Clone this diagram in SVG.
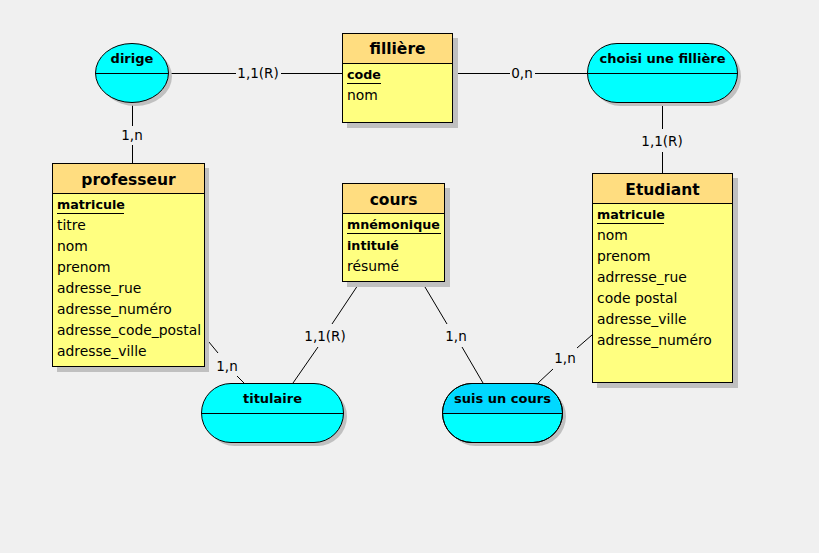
<svg xmlns="http://www.w3.org/2000/svg" width="819" height="553" viewBox="0 0 819 553">
  <style>
    .shadow { fill: #c0c0c0; }
    .head { fill: #ffdd80; stroke: #000; stroke-width: 1; }
    .body { fill: #ffff80; stroke: #000; stroke-width: 1; }
    .rel { fill: #00ffff; stroke: #000; stroke-width: 1; }
    .div { stroke: #000; stroke-width: 1; }
    .title { font-family: "DejaVu Sans", sans-serif; font-weight: bold; font-size: 15.5px; fill: #000; text-anchor: middle; }
    .rtitle { font-family: "DejaVu Sans", sans-serif; font-weight: bold; font-size: 13px; fill: #000; text-anchor: middle; }
    .attr { font-family: "DejaVu Sans", sans-serif; font-size: 13.9px; fill: #000; }
    .key { font-weight: bold; font-size: 12.7px; }
    .card { font-family: "DejaVu Sans", sans-serif; font-size: 13.5px; fill: #000; text-anchor: middle; }
    .link { stroke: #000; stroke-width: 1; fill: none; }
  </style>
  <rect width="819" height="553" fill="#f0f0f0"/>

  <g id="connectors">
    <!-- dirige - fillière -->
    <line class="link" x1="168" y1="73.5" x2="236" y2="73.5"/>
    <line class="link" x1="281" y1="73.5" x2="342" y2="73.5"/>
    <text class="card" x="258" y="78">1,1(R)</text>
    <!-- fillière - choisi une fillière -->
    <line class="link" x1="453" y1="73.5" x2="510" y2="73.5"/>
    <line class="link" x1="535" y1="73.5" x2="587" y2="73.5"/>
    <text class="card" x="522" y="78">0,n</text>
    <!-- dirige - professeur -->
    <line class="link" x1="132.5" y1="102" x2="132.5" y2="126"/>
    <line class="link" x1="132.5" y1="145" x2="132.5" y2="163"/>
    <text class="card" x="132" y="140">1,n</text>
    <!-- choisi une fillière - Etudiant -->
    <line class="link" x1="662.5" y1="102" x2="662.5" y2="129"/>
    <line class="link" x1="662.5" y1="152" x2="662.5" y2="173"/>
    <text class="card" x="662" y="146">1,1(R)</text>
    <!-- professeur - titulaire -->
    <line class="link" x1="204" y1="336" x2="218" y2="353"/>
    <line class="link" x1="237" y1="376" x2="244" y2="383"/>
    <text class="card" x="227" y="371">1,n</text>
    <!-- cours - titulaire -->
    <line class="link" x1="360" y1="282" x2="332" y2="324"/>
    <line class="link" x1="318" y1="347" x2="293" y2="383"/>
    <text class="card" x="325" y="341">1,1(R)</text>
    <!-- cours - suis un cours -->
    <line class="link" x1="422" y1="282" x2="447" y2="324"/>
    <line class="link" x1="462" y1="347" x2="483" y2="383"/>
    <text class="card" x="456" y="341">1,n</text>
    <!-- Etudiant - suis un cours -->
    <line class="link" x1="592" y1="335" x2="577" y2="348"/>
    <line class="link" x1="553" y1="369" x2="538" y2="383"/>
    <text class="card" x="565" y="363">1,n</text>
  </g>

  <g id="fillière">
    <rect class="shadow" x="347" y="38" width="111" height="90"/>
    <rect class="head" x="342.5" y="33.5" width="110" height="30"/>
    <rect class="body" x="342.5" y="63.5" width="110" height="59"/>
    <text class="title" x="397.5" y="54">fillière</text>
    <text class="attr key" x="347" y="79">code</text>
    <line class="div" x1="347" y1="83.5" x2="381" y2="83.5"/>
    <text class="attr" x="347" y="100">nom</text>
  </g>

  <g id="professeur">
    <rect class="shadow" x="57" y="168" width="152" height="204"/>
    <rect class="head" x="52.5" y="163.5" width="152" height="30"/>
    <rect class="body" x="52.5" y="193.5" width="152" height="173"/>
    <text class="title" x="128.5" y="185">professeur</text>
    <text class="attr key" x="57" y="209">matricule</text>
    <line class="div" x1="57" y1="213.5" x2="124" y2="213.5"/>
    <text class="attr" x="57" y="230">titre</text>
    <text class="attr" x="57" y="251">nom</text>
    <text class="attr" x="57" y="272">prenom</text>
    <text class="attr" x="57" y="293">adresse_rue</text>
    <text class="attr" x="57" y="314">adresse_numéro</text>
    <text class="attr" x="57" y="335">adresse_code_postal</text>
    <text class="attr" x="57" y="356">adresse_ville</text>
  </g>

  <g id="cours">
    <rect class="shadow" x="347" y="188" width="103" height="99"/>
    <rect class="head" x="342.5" y="183.5" width="102" height="30"/>
    <rect class="body" x="342.5" y="213.5" width="102" height="68"/>
    <text class="title" x="393.5" y="205">cours</text>
    <text class="attr key" x="347" y="229">mnémonique</text>
    <line class="div" x1="347" y1="233.5" x2="441" y2="233.5"/>
    <text class="attr key" x="347" y="250">intitulé</text>
    <text class="attr" x="347" y="271">résumé</text>
  </g>

  <g id="Etudiant">
    <rect class="shadow" x="597" y="178" width="141" height="210"/>
    <rect class="head" x="592.5" y="173.5" width="140" height="30"/>
    <rect class="body" x="592.5" y="203.5" width="140" height="179"/>
    <text class="title" x="662.5" y="195">Etudiant</text>
    <text class="attr key" x="597" y="219">matricule</text>
    <line class="div" x1="597" y1="223.5" x2="664" y2="223.5"/>
    <text class="attr" x="597" y="240">nom</text>
    <text class="attr" x="597" y="261">prenom</text>
    <text class="attr" x="597" y="282">adrresse_rue</text>
    <text class="attr" x="597" y="303">code postal</text>
    <text class="attr" x="597" y="324">adresse_ville</text>
    <text class="attr" x="597" y="345">adresse_numéro</text>
  </g>

  <g id="dirige">
    <rect class="shadow" x="99" y="47" width="73" height="59" rx="36.5" ry="29.5"/>
    <rect class="rel" x="95.5" y="43.5" width="73" height="59" rx="36.5" ry="29.5"/>
    <line class="div" x1="95.5" y1="73.5" x2="168.5" y2="73.5"/>
    <text class="rtitle" x="132" y="63">dirige</text>
  </g>

  <g id="choisi-une-fillière">
    <rect class="shadow" x="591" y="47" width="150" height="59" rx="29.5" ry="29.5"/>
    <rect class="rel" x="587.5" y="43.5" width="150" height="59" rx="29.5" ry="29.5"/>
    <line class="div" x1="587.5" y1="73.5" x2="737.5" y2="73.5"/>
    <text class="rtitle" x="662.5" y="63">choisi une fillière</text>
  </g>

  <g id="titulaire">
    <rect class="shadow" x="205" y="387" width="142" height="59" rx="29.5" ry="29.5"/>
    <rect class="rel" x="201.5" y="383.5" width="142" height="59" rx="29.5" ry="29.5"/>
    <line class="div" x1="201.5" y1="413.5" x2="343.5" y2="413.5"/>
    <text class="rtitle" x="272.5" y="403">titulaire</text>
  </g>

  <g id="suis-un-cours">
    <rect class="shadow" x="446" y="387" width="120" height="59" rx="29.5" ry="29.5"/>
    <rect class="rel" x="442.5" y="383.5" width="120" height="59" rx="29.5" ry="29.5"/>
    <path d="M472 384 H533 A29.5 29.5 0 0 1 561.5 413 H443.5 A29.5 29.5 0 0 1 472 384 Z" fill="#00d8ff"/>
    <rect x="442.5" y="383.5" width="120" height="59" rx="29.5" ry="29.5" fill="none" stroke="#000"/>
    <line class="div" x1="442.5" y1="413.5" x2="562.5" y2="413.5"/>
    <text class="rtitle" x="502.5" y="403">suis un cours</text>
  </g>
</svg>
